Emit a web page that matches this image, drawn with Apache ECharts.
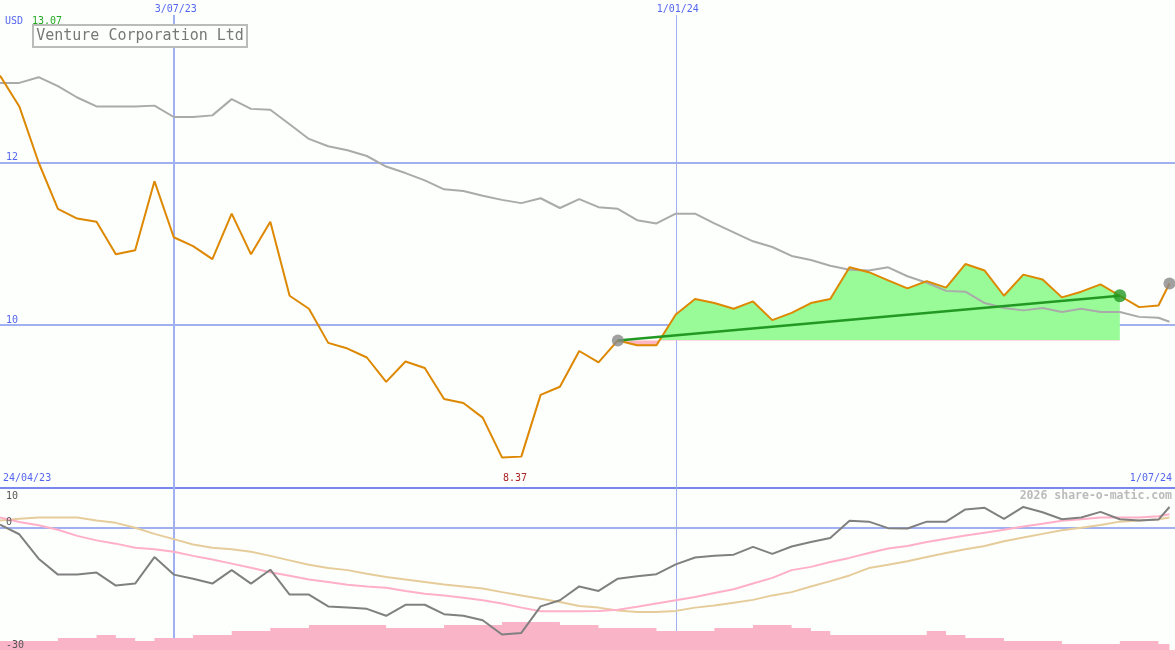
<!DOCTYPE html>
<html>
<head>
<meta charset="utf-8">
<script src="https://cdn.jsdelivr.net/npm/echarts@6/dist/echarts.min.js"></script>
<style>
html,body{margin:0;padding:0;background:#fcfffc;}
#c{width:1175px;height:650px;}
</style>
</head>
<body>
<div id="c"></div>
<script>
// ---------- DATA ----------
const dates = [
 '2023-05-01','2023-05-08','2023-05-15','2023-05-22','2023-05-29','2023-06-05','2023-06-12','2023-06-19','2023-06-26','2023-07-03',
 '2023-07-10','2023-07-17','2023-07-24','2023-07-31','2023-08-07','2023-08-14','2023-08-21','2023-08-28','2023-09-04','2023-09-11',
 '2023-09-18','2023-09-25','2023-10-02','2023-10-09','2023-10-16','2023-10-23','2023-10-30','2023-11-06','2023-11-13','2023-11-20',
 '2023-11-27','2023-12-04','2023-12-11','2023-12-18','2023-12-25','2024-01-01','2024-01-08','2024-01-15','2024-01-22','2024-01-29',
 '2024-02-05','2024-02-12','2024-02-19','2024-02-26','2024-03-04','2024-03-11','2024-03-18','2024-03-25','2024-04-01','2024-04-08',
 '2024-04-15','2024-04-22','2024-04-29','2024-05-06','2024-05-13','2024-05-20','2024-05-27','2024-06-03','2024-06-10','2024-06-17',
 '2024-06-24','2024-06-28'
];
const price = [
 13.07,12.69,12.00,11.43,11.31,11.27,10.87,10.92,11.77,11.08,
 10.97,10.81,11.37,10.87,11.27,10.36,10.20,9.78,9.71,9.60,
 9.30,9.55,9.47,9.09,9.04,8.86,8.37,8.38,9.14,9.24,
 9.68,9.54,9.81,9.75,9.75,10.13,10.32,10.27,10.20,10.29,
 10.06,10.15,10.27,10.32,10.71,10.65,10.55,10.45,10.54,10.46,
 10.75,10.67,10.36,10.62,10.56,10.34,10.41,10.50,10.36,10.22,
 10.24,10.51
];
const movingAvg = [
 12.98,12.98,13.05,12.94,12.80,12.69,12.69,12.69,12.70,12.56,
 12.56,12.58,12.78,12.66,12.65,12.47,12.29,12.20,12.15,12.08,
 11.95,11.87,11.78,11.67,11.65,11.59,11.54,11.50,11.56,11.44,
 11.55,11.45,11.43,11.29,11.25,11.37,11.37,11.25,11.14,11.03,
 10.96,10.85,10.80,10.73,10.68,10.67,10.71,10.60,10.52,10.42,
 10.41,10.27,10.21,10.18,10.21,10.16,10.20,10.16,10.16,10.10,
 10.09,10.04
];
const momentum = [
 0.75,-1.6,-7.6,-11.5,-11.5,-11.0,-14.2,-13.7,-7.2,-11.5,
 -12.5,-13.7,-10.4,-13.7,-10.3,-16.4,-16.4,-19.3,-19.6,-19.9,
 -21.6,-18.9,-18.9,-21.2,-21.6,-22.7,-26.2,-25.8,-19.3,-17.8,
 -14.4,-15.5,-12.5,-11.9,-11.4,-9.0,-7.3,-6.9,-6.6,-4.7,
 -6.4,-4.6,-3.5,-2.5,1.7,1.5,-0.1,-0.2,1.5,1.5,
 4.5,4.9,2.2,5.1,3.8,2.1,2.5,3.9,2.1,1.8,
 2.0,5.1
];
const pinkIndicator = [
 2.5,1.4,0.6,-0.5,-2.0,-3.1,-3.9,-4.9,-5.3,-5.9,
 -6.9,-7.8,-8.8,-9.8,-10.9,-11.8,-12.7,-13.3,-14.0,-14.4,
 -14.7,-15.5,-16.2,-16.6,-17.2,-17.8,-18.6,-19.6,-20.5,-20.5,
 -20.5,-20.4,-20.1,-19.4,-18.6,-17.8,-17.0,-16.0,-15.1,-13.7,
 -12.3,-10.4,-9.6,-8.4,-7.4,-6.2,-5.1,-4.5,-3.5,-2.7,
 -1.9,-1.2,-0.5,0.3,1.0,1.7,2.1,2.5,2.5,2.5,
 2.8,3.3
];
const tanIndicator = [
 1.8,2.2,2.5,2.5,2.5,1.8,1.2,0.0,-1.5,-2.8,
 -4.1,-4.9,-5.3,-5.9,-6.9,-8.0,-9.1,-9.9,-10.4,-11.3,
 -12.1,-12.7,-13.3,-13.9,-14.4,-14.9,-15.8,-16.6,-17.4,-18.2,
 -19.2,-19.6,-20.3,-20.7,-20.7,-20.4,-19.6,-19.1,-18.4,-17.7,
 -16.6,-15.8,-14.4,-13.1,-11.7,-9.9,-9.1,-8.2,-7.2,-6.2,
 -5.3,-4.5,-3.3,-2.4,-1.5,-0.6,0.0,0.7,1.5,1.8,
 2.1,2.5
];
const volume = [
 0.9,0.9,0.9,1.2,1.2,1.5,1.2,0.9,1.2,1.2,
 1.5,1.5,1.9,1.9,2.2,2.2,2.5,2.5,2.5,2.5,
 2.2,2.2,2.2,2.5,2.5,2.5,2.8,2.8,2.8,2.5,
 2.5,2.2,2.2,2.2,1.9,1.9,1.9,2.2,2.2,2.5,
 2.5,2.2,1.9,1.5,1.5,1.5,1.5,1.5,1.9,1.5,
 1.2,1.2,0.9,0.9,0.9,0.6,0.6,0.6,0.9,0.9,
 0.6,0.6
];
const priceTicks = [10, 12];
const lowerTicks = [10, 0, -30];
const dateMarks = ['2023-07-03', '2024-01-01'];
const dateMarkLabels = ['3/07/23', '1/01/24'];
const rangeLabels = ['24/04/23', '1/07/24'];
const axisStart = '2023-05-01', axisEnd = '2024-06-30';
const trendStart = '2023-12-11', trendEnd = '2024-06-10';
const titleText = 'Venture Corporation Ltd';
const currency = 'USD';
const watermark = '2026 share-o-matic.com';

// ---------- STYLE ----------
const BG = '#fcfffc', BLUE = '#5566ee', GRIDC = '#a0b0f0', SEPC = '#7888ee';
const MONO = '"DejaVu Sans Mono", "Liberation Mono", monospace';

const T = s => { const p = s.split('-').map(Number); return Date.UTC(p[0], p[1] - 1, p[2]); };
const pts = arr => dates.map((d, i) => [T(d), arr[i]]);
const iS = dates.indexOf(trendStart), iE = dates.indexOf(trendEnd), iL = dates.length - 1;
const base = price[iS];
const seg = price.slice(iS, iE + 1);
const hi = Math.max(...seg, base), lo = Math.min(...seg, base);
const stop = (hi - base) / (hi - lo);
let iMin = 0, iMax = 0;
price.forEach((v, i) => { if (v < price[iMin]) iMin = i; if (v > price[iMax]) iMax = i; });

const chart = echarts.init(document.getElementById('c'));
const mlCommon = { silent: true, symbol: ['none', 'none'], z: 1, label: { show: false }, animation: false,
  emphasis: { disabled: true }, lineStyle: { type: 'solid' } };

const option = {
  backgroundColor: BG,
  animation: false,
  grid: [
    { left: 0, right: 0, top: -2, height: 489.5 },
    { left: 0, right: 0, top: 487, height: 163 }
  ],
  xAxis: [0, 1].map(g => ({ gridIndex: g, type: 'time', min: T(axisStart), max: T(axisEnd), show: false })),
  yAxis: [
    { gridIndex: 0, type: 'value', min: 8, max: 14, interval: 2,
      axisLine: { show: false }, axisTick: { show: false },
      splitLine: { show: true, showMaxLine: false, lineStyle: { color: GRIDC, width: 2 } },
      axisLabel: { inside: true, margin: 6, verticalAlign: 'bottom', color: BLUE, fontFamily: MONO, fontSize: 10,
        formatter: v => priceTicks.includes(v) ? String(v) : '' } },
    { gridIndex: 1, type: 'value', min: -30, max: 10, interval: 10, z: 20,
      axisLine: { show: false }, axisTick: { show: false }, splitLine: { show: false },
      axisLabel: { inside: true, margin: 6, verticalAlign: 'bottom', color: '#555', fontFamily: MONO, fontSize: 10,
        showMinLabel: true, showMaxLabel: false,
        formatter: v => (lowerTicks.includes(v) && v !== 10) ? String(v) : '' } },
    { gridIndex: 1, type: 'value', min: 0, max: 16.3, show: false }
  ],
  series: [
    { name: 'fill', type: 'line', xAxisIndex: 0, yAxisIndex: 0, z: 2, symbol: 'none', silent: true,
      data: pts(price).slice(iS, iE + 1),
      lineStyle: { width: 0 },
      areaStyle: { origin: base, opacity: 1,
        color: new echarts.graphic.LinearGradient(0, 0, 0, 1, [
          { offset: 0, color: '#98fb98' }, { offset: stop, color: '#98fb98' },
          { offset: stop, color: '#ffb6c1' }, { offset: 1, color: '#ffb6c1' }]) } },
    { name: 'avg', type: 'line', xAxisIndex: 0, yAxisIndex: 0, z: 3, symbol: 'none', silent: true,
      data: pts(movingAvg), lineStyle: { color: '#aaaaaa', width: 2 } },
    { name: 'price', type: 'line', xAxisIndex: 0, yAxisIndex: 0, z: 4, symbol: 'none', silent: true,
      data: pts(price), lineStyle: { color: '#dd8800', width: 2 },
      markLine: Object.assign({}, mlCommon, { data: [
        { xAxis: T(dateMarks[0]), lineStyle: { color: GRIDC, width: 2, type: 'solid' } },
        { xAxis: T(dateMarks[1]), lineStyle: { color: GRIDC, width: 1, type: 'solid' } },
        { yAxis: 8, lineStyle: { color: SEPC, width: 2, type: 'solid' } }
      ] }) },
    { name: 'trend', type: 'line', xAxisIndex: 0, yAxisIndex: 0, z: 5, symbol: 'none', silent: true,
      data: [[T(dates[iS]), price[iS]], [T(dates[iE]), price[iE]]],
      lineStyle: { color: '#229922', width: 2.5 } },
    { name: 'ends', type: 'scatter', xAxisIndex: 0, yAxisIndex: 0, z: 6, silent: true, symbolSize: 12,
      data: [[T(dates[iS]), price[iS]], [T(dates[iL]), price[iL]]], itemStyle: { color: '#888888' } },
    { name: 'endTrend', type: 'scatter', xAxisIndex: 0, yAxisIndex: 0, z: 6, silent: true, symbolSize: 13,
      data: [[T(dates[iE]), price[iE]]], itemStyle: { color: '#229922' } },
    { name: 'volume', type: 'line', xAxisIndex: 1, yAxisIndex: 2, z: 2, symbol: 'none', silent: true, step: 'end',
      data: pts(volume), lineStyle: { width: 0 }, areaStyle: { color: '#fab4c8', opacity: 1 } },
    { name: 'tan', type: 'line', xAxisIndex: 1, yAxisIndex: 1, z: 3, symbol: 'none', silent: true,
      data: pts(tanIndicator), lineStyle: { color: '#e6cc9a', width: 2 } },
    { name: 'pink', type: 'line', xAxisIndex: 1, yAxisIndex: 1, z: 3, symbol: 'none', silent: true,
      data: pts(pinkIndicator), lineStyle: { color: '#ffb0c8', width: 2 } },
    { name: 'momentum', type: 'line', xAxisIndex: 1, yAxisIndex: 1, z: 4, symbol: 'none', silent: true,
      data: pts(momentum), lineStyle: { color: '#808080', width: 2 },
      markLine: Object.assign({}, mlCommon, { data: [
        { xAxis: T(dateMarks[0]), lineStyle: { color: GRIDC, width: 2, type: 'solid' } },
        { xAxis: T(dateMarks[1]), lineStyle: { color: GRIDC, width: 1, type: 'solid' } },
        { yAxis: 0, lineStyle: { color: GRIDC, width: 2, type: 'solid' } }
      ] }) }
  ]
};
chart.setOption(option);

// ---------- TEXT ANNOTATIONS (positioned through the chart scales) ----------
const P0 = (t, v) => chart.convertToPixel({ gridIndex: 0 }, [t, v]);
const P1 = (t, v) => chart.convertToPixel({ gridIndex: 1 }, [t, v]);
const txt = (x, y, text, extra) => ({ type: 'text', z: 100, x, y,
  style: Object.assign({ text, fontFamily: MONO, fontSize: 10, fill: BLUE, align: 'left', verticalAlign: 'middle' }, extra || {}) });
const bottomY = P0(T(axisStart), 8)[1];
const g = [];
dateMarks.forEach((d, i) => {
  const x = P0(T(d), 10)[0];
  g.push(txt(x + 2, 0, dateMarkLabels[i], { align: 'center', verticalAlign: 'top', backgroundColor: BG, padding: [4, 2, 1, 2] }));
});
g.push(txt(5, 21, currency));
g.push(txt(32, 21, price[iMax].toFixed(2), { fill: '#22aa22' }));
g.push({ type: 'rect', z: 100, shape: { x: 33, y: 25, width: 214, height: 22 }, style: { fill: BG, stroke: '#bbbbbb', lineWidth: 2 } });
g.push(txt(140, 36.5, titleText, { align: 'center', fontSize: 15, fill: '#777777' }));
g.push(txt(3, bottomY - 9, rangeLabels[0]));
g.push(txt(1172, bottomY - 9, rangeLabels[1], { align: 'right' }));
g.push(txt(P0(T(dates[iMin]), price[iMin])[0] + 1, bottomY - 9, price[iMin].toFixed(2), { fill: '#aa2222' }));
g.push(txt(1172, 496, watermark, { align: 'right', fill: '#bbbbbb', fontSize: 11.5, fontWeight: 'bold' }));
g.push(txt(6, P1(T(axisStart), lowerTicks[0])[1] + 4, String(lowerTicks[0]), { verticalAlign: 'top', fill: '#555555' }));
chart.setOption({ graphic: g });
</script>
</body>
</html>
